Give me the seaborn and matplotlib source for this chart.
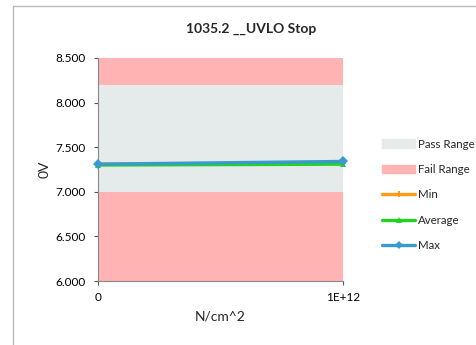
import matplotlib
matplotlib.use('Agg')
import matplotlib.pyplot as plt
import matplotlib.patches as mpatches
import matplotlib.lines as mlines
import pandas as pd
import seaborn as sns

# data
categories = ["0", "1E+12"]
min_vals = [7.31, 7.32]
avg_vals = [7.30, 7.31]
max_vals = [7.31, 7.34]
fail_low = [6.0, 7.0]
pass_band = [7.0, 8.2]
fail_high = [8.2, 8.5]
y_ticks = [6.0, 6.5, 7.0, 7.5, 8.0, 8.5]

sns.set_style("white")
plt.rcParams['font.family'] = ['Lato', 'DejaVu Sans']

fig = plt.figure(figsize=(4.77, 3.45), dpi=100)
ax = fig.add_axes([98 / 477, 1 - 281 / 345, 245 / 477, 223 / 345])

x = list(range(len(categories)))
pass_col = '#E5EAEA'
fail_col = '#FFB3B3'
ax.fill_between(x, fail_low[0], fail_low[1], color=fail_col, lw=0)
ax.fill_between(x, pass_band[0], pass_band[1], color=pass_col, lw=0)
ax.fill_between(x, fail_high[0], fail_high[1], color=fail_col, lw=0)

df = pd.DataFrame({'x': x, 'Min': min_vals, 'Average': avg_vals, 'Max': max_vals})
series = [('Min', '#FF9A1A', 'P'), ('Average', '#22D422', '^'), ('Max', '#3A9AD0', 'D')]
for name, col, mk in series:
    sns.lineplot(data=df, x='x', y=name, ax=ax, color=col, lw=2.4, marker=mk,
                 markersize=5, markeredgewidth=0, legend=False, clip_on=False, zorder=3)

ax.set_xlim(0, 1)
ax.set_ylim(6.0, 8.5)
ax.set_xticks(x)
ax.set_xticklabels(categories)
ax.set_yticks(y_ticks)
ax.set_yticklabels([f"{v:.3f}" for v in y_ticks])
ax.tick_params(axis='both', labelsize=8.5, colors='#555555', length=3, width=0.8,
               direction='out', bottom=True, left=True, labelcolor='black', pad=6)
ax.tick_params(axis='x', pad=5)
for s in ['top', 'right']:
    ax.spines[s].set_visible(False)
for s in ['left', 'bottom']:
    ax.spines[s].set_color('#888888')
    ax.spines[s].set_linewidth(0.8)

ax.set_xlabel('N/cm^2', fontsize=10, labelpad=5)
ax.set_ylabel('0V', fontsize=10, labelpad=3)
fig.text(251 / 477, 1 - 29 / 345, '1035.2 __UVLO Stop', ha='center', va='center',
         fontsize=10, fontweight='bold')

handles = [mpatches.Patch(color=pass_col, label='Pass Range'),
           mpatches.Patch(color=fail_col, label='Fail Range')]
for name, col, mk in series:
    handles.append(mlines.Line2D([], [], color=col, lw=2.4, marker=mk, markersize=4,
                                 markeredgewidth=0, label=name))
fig.legend(handles=handles, loc='center left', bbox_to_anchor=(382 / 477, 1 - 195 / 345),
           frameon=False, fontsize=8.3, handlelength=2.9, handleheight=0.8,
           labelspacing=1.25, handletextpad=0.25, borderpad=0, borderaxespad=0)

# outer chart border
fig.add_artist(mlines.Line2D([13 / 477, 13 / 477], [0, 1 - 6 / 345], color='#BBBBBB',
                             lw=1, transform=fig.transFigure))
fig.add_artist(mlines.Line2D([13 / 477, 1], [1 - 6 / 345, 1 - 6 / 345], color='#BBBBBB',
                             lw=1, transform=fig.transFigure))

plt.savefig('out.png', dpi=100)
plt.close()
